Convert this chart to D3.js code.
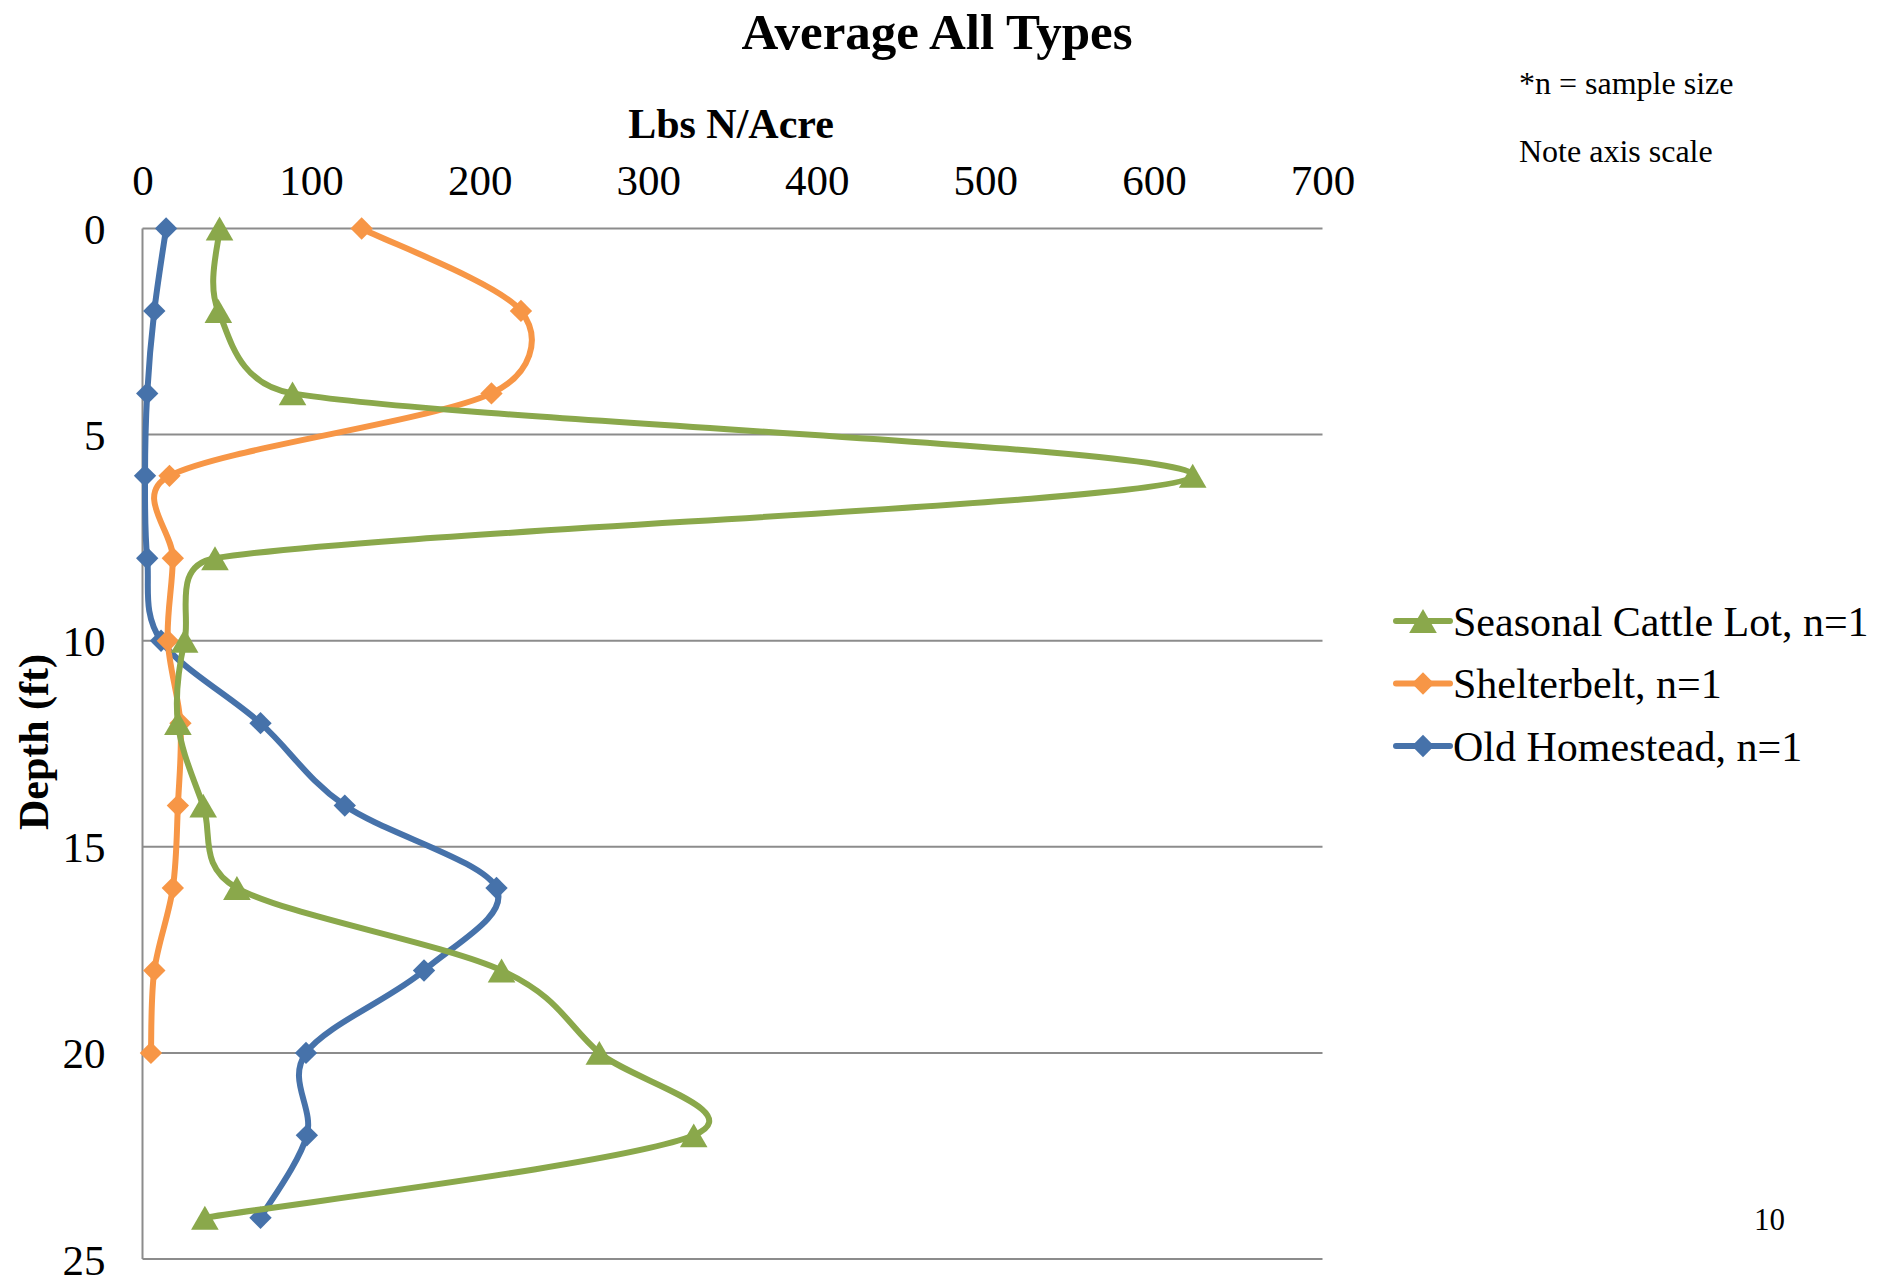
<!DOCTYPE html>
<html>
<head>
<meta charset="utf-8">
<script src="https://cdn.jsdelivr.net/npm/d3@7"></script>
<style>
  html, body { margin: 0; padding: 0; background: #fff; }
  svg { display: block; }
  svg text { font-family: "Liberation Serif", "Times New Roman", serif; fill: #000; }
</style>
</head>
<body>
<svg id="chart" width="1877" height="1280"></svg>
<script>
// Sampling depths (ft)
const depths = [0, 2, 4, 6, 8, 10, 12, 14, 16, 18, 20, 22, 24];

// Nitrate-N (lbs N/acre) by depth for each site
const seasonalCattleLot = [45.7, 45, 89, 623, 43, 25, 21, 36, 56, 213, 271, 327, 37];
const shelterbelt       = [130, 224.5, 207, 16, 18, 15, 22.5, 21, 18, 7, 5];
const oldHomestead      = [14, 7, 2.8, 1.5, 2.8, 11, 70, 120, 210, 167, 97, 97.5, 70];

const seriesNames  = ["Seasonal Cattle Lot, n=1", "Shelterbelt, n=1", "Old Homestead, n=1"];
const seriesColors = ["#8AA84B", "#F79646", "#4672AA"];
const seriesMarkers = ["triangle", "diamond", "diamond"];

const xTicks = [0, 100, 200, 300, 400, 500, 600, 700];
const yTicks = [0, 5, 10, 15, 20, 25];

const FONT = "Liberation Serif, Times New Roman, serif";
const svg = d3.select("#chart");

const plot = { left: 142.5, right: 1322.5, top: 228.5, bottom: 1259 };

const x = d3.scaleLinear().domain([0, 700]).range([plot.left, plot.right]);
const y = d3.scaleLinear().domain([0, 25]).range([plot.top, plot.bottom]);

// Horizontal gridlines
svg.append("g")
  .selectAll("line")
  .data(yTicks)
  .join("line")
  .attr("x1", plot.left).attr("x2", plot.right)
  .attr("y1", d => y(d)).attr("y2", d => y(d))
  .attr("stroke", "#8c8c8c").attr("stroke-width", 2);

// Left value axis line
svg.append("line")
  .attr("x1", plot.left).attr("x2", plot.left)
  .attr("y1", plot.top).attr("y2", plot.bottom)
  .attr("stroke", "#8c8c8c").attr("stroke-width", 2);

// Top axis (Lbs N/Acre)
const xAxis = svg.append("g")
  .attr("transform", `translate(0,${plot.top})`)
  .call(d3.axisTop(x).tickValues(xTicks).tickSize(0).tickPadding(0));
xAxis.attr("font-family", FONT);
xAxis.select(".domain").remove();
xAxis.selectAll("text")
  .attr("y", -49)
  .attr("dy", "0.35em")
  .attr("font-size", 43)
  .attr("font-family", FONT)
  .attr("fill", "#000");

// Left axis (Depth)
const yAxis = svg.append("g")
  .attr("transform", `translate(${plot.left},0)`)
  .call(d3.axisLeft(y).tickValues(yTicks).tickSize(0).tickPadding(0));
yAxis.attr("font-family", FONT);
yAxis.select(".domain").remove();
yAxis.selectAll("text")
  .attr("x", -37)
  .attr("dy", "0.35em")
  .attr("font-size", 43)
  .attr("font-family", FONT)
  .attr("fill", "#000");

// Titles
svg.append("text")
  .attr("x", 937).attr("y", 49)
  .attr("text-anchor", "middle")
  .attr("font-size", 51).attr("font-weight", "bold")
  .text("Average All Types");

svg.append("text")
  .attr("x", 731).attr("y", 138)
  .attr("text-anchor", "middle")
  .attr("font-size", 42).attr("font-weight", "bold")
  .text("Lbs N/Acre");

svg.append("text")
  .attr("transform", "translate(48,742) rotate(-90)")
  .attr("text-anchor", "middle")
  .attr("font-size", 42).attr("font-weight", "bold")
  .text("Depth (ft)");

// Notes
svg.append("text").attr("x", 1519).attr("y", 94)
  .attr("font-size", 32).text("*n = sample size");
svg.append("text").attr("x", 1519).attr("y", 162)
  .attr("font-size", 32).text("Note axis scale");
svg.append("text").attr("x", 1754).attr("y", 1230)
  .attr("font-size", 31).text("10");

// Smoothed line: cubic Bezier through the points, control arms of 1/6 of the
// neighbour chord, capped at half the segment length (spreadsheet-style smoothing).
function smoothPath(pts) {
  const p = d3.path();
  const n = pts.length;
  const dist = (a, b) => Math.hypot(a[0] - b[0], a[1] - b[1]);
  p.moveTo(pts[0][0], pts[0][1]);
  for (let i = 0; i < n - 1; i++) {
    const p0 = pts[Math.max(i - 1, 0)];
    const p1 = pts[i];
    const p2 = pts[i + 1];
    const p3 = pts[Math.min(i + 2, n - 1)];
    const d12 = dist(p1, p2);
    const d02 = dist(p0, p2);
    const d13 = dist(p1, p3);
    let f1 = 1 / 6, f2 = 1 / 6;
    if (d02 > 0 && d02 / 6 > d12 / 2) f1 = d12 / (2 * d02);
    if (d13 > 0 && d13 / 6 > d12 / 2) f2 = d12 / (2 * d13);
    const c1 = [p1[0] + (p2[0] - p0[0]) * f1, p1[1] + (p2[1] - p0[1]) * f1];
    const c2 = [p2[0] - (p3[0] - p1[0]) * f2, p2[1] - (p3[1] - p1[1]) * f2];
    p.bezierCurveTo(c1[0], c1[1], c2[0], c2[1], p2[0], p2[1]);
  }
  return p.toString();
}

// Series
const seriesValues = [seasonalCattleLot, shelterbelt, oldHomestead];

const triangleSize = 330;
const triangle = d3.symbol().type(d3.symbolTriangle).size(triangleSize);
const diamond = d3.symbol().type(d3.symbolSquare).size(250);
// shift so the triangle's bounding box (not its centroid) sits on the point
const triShift = Math.sqrt(triangleSize / (Math.sqrt(3) * 3)) / 2;

function markerPath(kind) {
  return kind === "triangle" ? triangle() : diamond();
}
function markerTransform(kind, px, py) {
  return kind === "triangle"
    ? `translate(${px},${py + triShift})`
    : `translate(${px},${py}) rotate(45)`;
}

// Draw order: Old Homestead, Shelterbelt, Seasonal Cattle Lot
[2, 1, 0].forEach(i => {
  const pts = seriesValues[i].map((v, k) => ({ depth: depths[k], v }));
  const g = svg.append("g");
  g.append("path")
    .attr("d", smoothPath(pts.map(d => [x(d.v), y(d.depth)])))
    .attr("fill", "none")
    .attr("stroke", seriesColors[i])
    .attr("stroke-width", 6)
    .attr("stroke-linejoin", "round")
    .attr("stroke-linecap", "round");
  g.selectAll("path.marker")
    .data(pts)
    .join("path")
    .attr("class", "marker")
    .attr("d", markerPath(seriesMarkers[i]))
    .attr("transform", d => markerTransform(seriesMarkers[i], x(d.v), y(d.depth)))
    .attr("fill", seriesColors[i]);
});

// Legend
const legendY = [621, 683.5, 746];
seriesNames.forEach((name, i) => {
  const g = svg.append("g").attr("transform", `translate(1396,${legendY[i]})`);
  g.append("line")
    .attr("x1", 0).attr("x2", 54)
    .attr("stroke", seriesColors[i]).attr("stroke-width", 6)
    .attr("stroke-linecap", "round");
  g.append("path")
    .attr("d", markerPath(seriesMarkers[i]))
    .attr("transform", markerTransform(seriesMarkers[i], 27, 0))
    .attr("fill", seriesColors[i]);
  g.append("text")
    .attr("x", 57).attr("dy", "0.35em")
    .attr("font-size", 42)
    .text(name);
});
</script>
</body>
</html>
